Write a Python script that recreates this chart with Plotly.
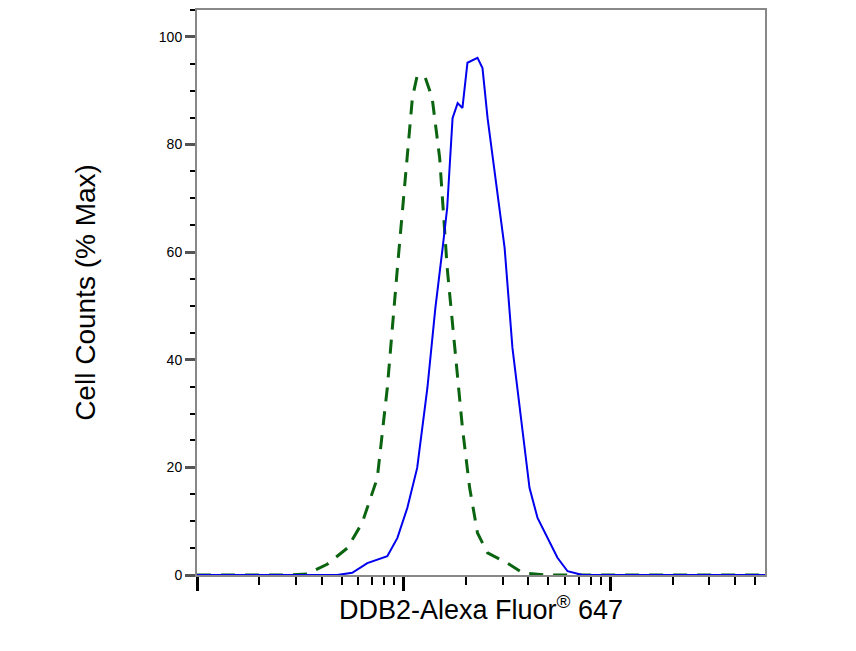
import plotly.graph_objects as go

# sample histogram (blue, solid)
sample_x = [1, 4.76, 5.63, 6.66, 8.32, 9.31, 10.4, 11.6, 13.0, 14.2, 15.4, 16.2, 17.2, 18.2, 19.2,
            20.3, 22.7, 24.0, 25.4, 28.4, 30.7, 33.5, 37.5, 40.5, 44.3, 49.5, 55.3, 61.9, 73.1, 557]
sample_y = [0, 0, 0.4, 2.2, 3.5, 6.9, 12.5, 19.9, 34.8, 49.6, 60.8, 68.2, 84.9, 87.7, 86.8,
            95.2, 96.1, 94.2, 84.9, 70.1, 60.8, 42.2, 27.3, 16.2, 10.6, 6.9, 3.2, 0.7, 0, 0]

# isotype control (green, dashed)
ctrl_x = [1, 2.73, 3.41, 4.26, 5.33, 6.29, 7.44, 8.32, 9.31, 10.2, 11.0, 11.6, 12.7, 13.7, 14.9,
          16.2, 17.8, 19.2, 20.8, 22.7, 25.4, 28.4, 31.7, 37.5, 49.5, 557]
ctrl_y = [0, 0, 0.2, 2.0, 5.0, 9.7, 18.0, 34.8, 57.1, 73.8, 88.7, 92.8, 92.4, 88.7, 77.5,
          57.1, 40.3, 27.3, 16.2, 7.8, 4.1, 3.2, 2.2, 0.4, 0, 0]

major = [1, 10, 100]
minor = [m * d for d in (1, 10, 100) for m in range(2, 10) if m * d < 557]

fig = go.Figure()
fig.add_trace(go.Scatter(x=ctrl_x, y=ctrl_y, mode="lines",
                         line=dict(color="#0a6410", width=3, dash="14px,10px")))
fig.add_trace(go.Scatter(x=sample_x, y=sample_y, mode="lines",
                         line=dict(color="#0000ee", width=2)))

fig.update_layout(
    width=856, height=651, showlegend=False,
    plot_bgcolor="white", paper_bgcolor="white",
    margin=dict(l=189, r=99, t=2, b=84),
    font=dict(family="Liberation Sans, Arial", color="black"),
    xaxis=dict(type="log", range=[0, 2.746], showgrid=False, zeroline=False, automargin=False,
               showline=True, linecolor="#888", linewidth=2, mirror=True,
               tickvals=major, showticklabels=False, ticks="outside", ticklen=14,
               tickwidth=3, tickcolor="black",
               minor=dict(tickvals=minor, ticks="outside", ticklen=8, tickwidth=2, tickcolor="black"),
               title=dict(text="DDB2-Alexa Fluor<sup>®</sup> 647", font=dict(size=27), standoff=10)),
    yaxis=dict(range=[0, 105], showgrid=False, zeroline=False, automargin=False,
               showline=True, linecolor="#888", linewidth=2, mirror=True,
               tickvals=[0, 20, 40, 60, 80, 100], ticks="outside", ticklen=10, tickwidth=3,
               tickcolor="#555", tickfont=dict(size=14),
               minor=dict(dtick=5, ticks="outside", ticklen=5, tickwidth=2, tickcolor="black"),
               title=dict(text="Cell Counts (% Max)", font=dict(size=28), standoff=55)),
)

fig.write_html("out.html")
